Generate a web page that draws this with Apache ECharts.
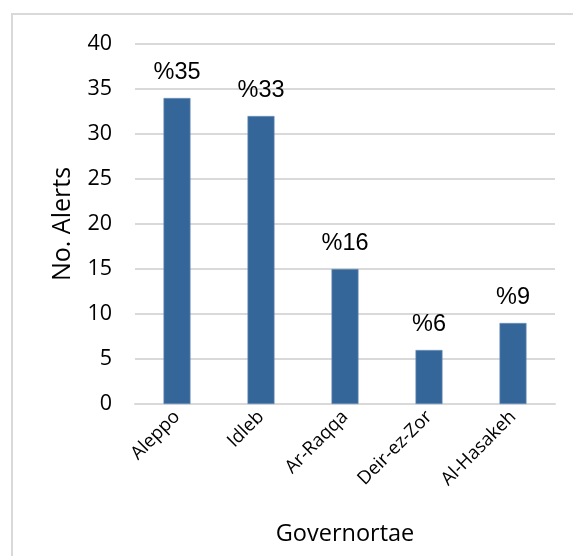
<!DOCTYPE html>
<html>
<head>
<meta charset="utf-8">
<script src="https://cdn.jsdelivr.net/npm/echarts@6/dist/echarts.min.js"></script>
<style>
  html, body { margin: 0; padding: 0; background: #ffffff; }
  #chart { width: 573px; height: 556px; }
</style>
</head>
<body>
<div id="chart"></div>
<script>
// Alerts by governorate
const governorates = ['Aleppo', 'Idleb', 'Ar-Raqqa', 'Deir-ez-Zor', 'Al-Hasakeh'];
const alertCounts = [34, 32, 15, 6, 9];
const shareLabels = ['%35', '%33', '%16', '%6', '%9'];
const yTicks = { min: 0, max: 40, interval: 5 };

const chart = echarts.init(document.getElementById('chart'));

chart.setOption({
  backgroundColor: '#ffffff',
  animation: false,
  graphic: [{
    type: 'rect',
    shape: { x: 12, y: 14, width: 700, height: 700 },
    style: { fill: 'none', stroke: '#d9d9d9', lineWidth: 2 },
    silent: true
  }],
  grid: { left: 135, right: 18, top: 44, bottom: 152 },
  xAxis: {
    type: 'category',
    data: governorates,
    name: 'Governortae',
    nameLocation: 'middle',
    nameGap: 118,
    nameTextStyle: { fontFamily: 'Open Sans', fontSize: 23.5, color: '#000000' },
    axisLine: { show: true, lineStyle: { color: '#d9d9d9', width: 2 } },
    axisTick: { show: false },
    axisLabel: {
      rotate: 45,
      margin: 10,
      interval: 0,
      fontFamily: 'Open Sans',
      fontSize: 18.5,
      color: '#000000'
    }
  },
  yAxis: {
    type: 'value',
    min: yTicks.min,
    max: yTicks.max,
    interval: yTicks.interval,
    name: 'No. Alerts',
    nameLocation: 'middle',
    nameGap: 60,
    nameRotate: 90,
    nameTextStyle: { fontFamily: 'Open Sans', fontSize: 25, color: '#000000' },
    axisLine: { show: false },
    axisTick: { show: false },
    axisLabel: {
      margin: 23,
      fontFamily: 'Open Sans',
      fontSize: 21.5,
      color: '#000000'
    },
    splitLine: { lineStyle: { color: '#d9d9d9', width: 2 } }
  },
  series: [{
    type: 'bar',
    data: alertCounts,
    barWidth: 27,
    itemStyle: { color: '#35669a', borderColor: '#6f93bb', borderWidth: 0.6 },
    label: {
      show: true,
      position: 'top',
      distance: 13,
      formatter: (p) => shareLabels[p.dataIndex],
      fontFamily: 'Liberation Sans',
      fontSize: 23.5,
      color: '#000000'
    }
  }]
});
</script>
</body>
</html>
